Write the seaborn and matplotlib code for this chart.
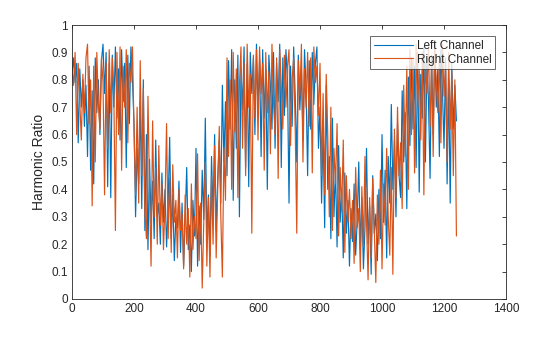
import numpy as np
import pandas as pd
import matplotlib
matplotlib.use("Agg")
import matplotlib.pyplot as plt
import seaborn as sns

step = 5
left_channel = [
    0.82,0.88,0.79,0.86,0.57,0.84,0.70,0.80,0.63,0.78,0.52,0.85,0.47,0.76,0.42,0.88,0.68,0.80,0.60,0.87,
    0.93,0.75,0.90,0.41,0.86,0.37,0.89,0.70,0.92,0.66,0.84,0.58,0.91,0.72,0.86,0.48,0.89,0.64,0.92,0.80,
    0.64,0.30,0.55,0.42,0.72,0.33,0.80,0.25,0.60,0.18,0.51,0.28,0.43,0.22,0.58,0.30,0.35,0.20,0.46,0.28,
    0.40,0.19,0.34,0.59,0.22,0.38,0.14,0.30,0.26,0.43,0.17,0.35,0.12,0.29,0.48,0.18,0.27,0.10,0.36,0.23,
    0.55,0.12,0.34,0.20,0.47,0.29,0.66,0.22,0.38,0.16,0.52,0.31,0.60,0.25,0.44,0.58,0.35,0.78,0.50,0.72,
    0.45,0.87,0.62,0.91,0.36,0.80,0.55,0.89,0.30,0.84,0.69,0.92,0.48,0.86,0.41,0.90,0.75,0.88,0.60,0.93,
    0.70,0.87,0.52,0.91,0.66,0.84,0.40,0.89,0.78,0.62,0.90,0.55,0.86,0.72,0.93,0.48,0.88,0.67,0.91,0.80,
    0.35,0.85,0.63,0.92,0.74,0.50,0.89,0.69,0.84,0.58,0.91,0.77,0.45,0.87,0.62,0.90,0.71,0.86,0.92,0.55,
    0.70,0.35,0.62,0.26,0.78,0.40,0.52,0.22,0.66,0.30,0.48,0.19,0.56,0.28,0.40,0.15,0.46,0.24,0.36,0.12,
    0.33,0.21,0.42,0.16,0.29,0.50,0.18,0.37,0.11,0.26,0.55,0.20,0.34,0.09,0.45,0.24,0.31,0.14,0.40,0.22,
    0.60,0.28,0.47,0.15,0.52,0.35,0.71,0.40,0.58,0.30,0.64,0.45,0.37,0.76,0.50,0.68,0.33,0.81,0.56,0.88,
    0.62,0.85,0.48,0.90,0.39,0.82,0.66,0.92,0.50,0.87,0.72,0.44,0.89,0.60,0.93,0.70,0.84,0.52,0.91,0.76,
    0.55,0.88,0.42,0.80,0.35,0.86,0.62,0.78,0.65,
]
right_channel = [
    0.84,0.78,0.90,0.60,0.86,0.72,0.58,0.82,0.68,0.88,0.93,0.64,0.80,0.34,0.85,0.50,0.90,0.71,0.62,0.88,
    0.79,0.38,0.86,0.55,0.91,0.68,0.88,0.74,0.25,0.90,0.60,0.92,0.47,0.85,0.70,0.91,0.57,0.86,0.79,0.92,
    0.62,0.38,0.70,0.35,0.87,0.45,0.77,0.32,0.22,0.74,0.40,0.12,0.65,0.30,0.48,0.20,0.56,0.27,0.42,0.18,
    0.35,0.64,0.22,0.44,0.17,0.49,0.28,0.36,0.15,0.40,0.25,0.31,0.11,0.38,0.20,0.33,0.08,0.42,0.18,0.30,
    0.22,0.53,0.14,0.35,0.04,0.28,0.50,0.12,0.37,0.08,0.45,0.20,0.56,0.15,0.40,0.63,0.30,0.08,0.55,0.36,
    0.88,0.52,0.80,0.40,0.90,0.61,0.84,0.37,0.78,0.92,0.55,0.86,0.45,0.93,0.70,0.82,0.24,0.89,0.66,0.91,
    0.58,0.92,0.75,0.86,0.47,0.90,0.68,0.83,0.53,0.93,0.72,0.60,0.88,0.44,0.91,0.78,0.62,0.89,0.70,0.85,
    0.91,0.56,0.80,0.88,0.62,0.24,0.87,0.74,0.93,0.50,0.84,0.70,0.90,0.63,0.88,0.46,0.92,0.79,0.85,0.67,
    0.86,0.45,0.75,0.38,0.82,0.60,0.30,0.70,0.25,0.55,0.42,0.64,0.23,0.48,0.32,0.58,0.17,0.45,0.28,0.40,
    0.22,0.36,0.13,0.48,0.26,0.33,0.10,0.41,0.19,0.52,0.28,0.07,0.37,0.15,0.44,0.25,0.06,0.38,0.20,0.47,
    0.11,0.42,0.27,0.55,0.30,0.16,0.48,0.09,0.62,0.37,0.70,0.45,0.57,0.33,0.78,0.52,0.85,0.40,0.91,0.60,
    0.88,0.46,0.93,0.70,0.84,0.58,0.90,0.38,0.86,0.75,0.92,0.63,0.87,0.52,0.91,0.80,0.68,0.89,0.57,0.93,
    0.74,0.86,0.50,0.90,0.62,0.83,0.45,0.80,0.23,
]
series_names = ["Left Channel", "Right Channel"]
x_ticks = [0, 200, 400, 600, 800, 1000, 1200, 1400]
y_ticks = [0, 0.1, 0.2, 0.3, 0.4, 0.5, 0.6, 0.7, 0.8, 0.9, 1]
y_tick_labels = ["0", "0.1", "0.2", "0.3", "0.4", "0.5", "0.6", "0.7", "0.8", "0.9", "1"]

sns.set_style("white")
plt.rcParams["font.family"] = ["Liberation Sans", "DejaVu Sans"]

frames = []
for name, vals in zip(series_names, [left_channel, right_channel]):
    frames.append(pd.DataFrame({"frame": np.arange(len(vals)) * step,
                                "ratio": vals, "channel": name}))
df = pd.concat(frames, ignore_index=True)

fig = plt.figure(figsize=(5.6, 3.37), dpi=100)
ax = fig.add_axes([0.1286, 0.1128, 0.775, 0.813])
sns.lineplot(data=df, x="frame", y="ratio", hue="channel",
             palette=["#0072BD", "#D95319"], linewidth=0.85,
             estimator=None, sort=False, ax=ax)

ax.set_xlim(0, 1400)
ax.set_ylim(0, 1)
ax.set_xticks(x_ticks)
ax.set_yticks(y_ticks)
ax.set_yticklabels(y_tick_labels)
ax.set_xlabel("")
ax.set_ylabel("Harmonic Ratio", fontsize=10, color="#262626", labelpad=4)
ax.tick_params(direction="in", length=3, width=0.6, colors="#262626",
               labelsize=8.5, top=True, right=True, pad=3)
for sp in ax.spines.values():
    sp.set_visible(True)
    sp.set_color("#262626")
    sp.set_linewidth(0.6)

leg = ax.legend(loc="upper right", fontsize=8.5, frameon=True, fancybox=False,
                handlelength=3.3, handletextpad=0.3, borderpad=0.3,
                labelspacing=0.15, borderaxespad=0.95)
leg.get_frame().set_edgecolor("#262626")
leg.get_frame().set_linewidth(0.6)
for line in leg.get_lines():
    line.set_linewidth(0.8)

fig.savefig("out.png", dpi=100)
